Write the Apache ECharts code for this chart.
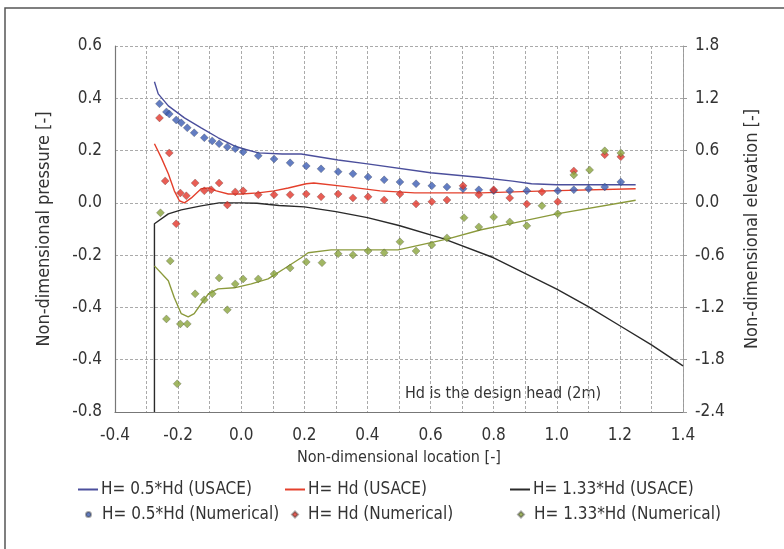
<!DOCTYPE html>
<html>
<head>
<meta charset="utf-8">
<script src="https://cdn.jsdelivr.net/npm/echarts@6/dist/echarts.min.js"></script>
<style>
  html, body { margin: 0; padding: 0; background: #fff; }
  #chart { width: 784px; height: 549px; }
</style>
</head>
<body>
<div id="chart"></div>
<script>
// tick labels (left axis repeats -0.4, as printed)
var leftTickLabels = ['-0.8', '-0.4', '-0.4', '-0.2', '0.0', '0.2', '0.4', '0.6'];
var seriesNames = [
    'H= 0.5*Hd (USACE)', 'H= Hd (USACE)', 'H= 1.33*Hd (USACE)',
    'H= 0.5*Hd (Numerical)', 'H= Hd (Numerical)', 'H= 1.33*Hd (Numerical)'
];

// USACE curves, [location, pressure]
var usaceHalf = [[-0.275,0.463],[-0.263,0.417],[-0.231,0.371],[-0.18,0.325],[-0.127,0.287],[-0.073,0.249],
    [-0.022,0.218],[0.006,0.207],[0.054,0.191],[0.13,0.187],[0.19,0.187],[0.307,0.164],[0.4,0.149],
    [0.6,0.115],[0.76,0.097],[0.86,0.083],[0.92,0.073],[1.0,0.069],[1.25,0.069]];
var usaceOne = [[-0.275,0.226],[-0.253,0.172],[-0.231,0.111],[-0.212,0.046],[-0.196,0.008],[-0.18,0.0],
    [-0.158,0.019],[-0.127,0.054],[-0.104,0.057],[-0.079,0.046],[-0.041,0.034],[0,0.034],[0.054,0.038],
    [0.104,0.046],[0.149,0.057],[0.206,0.073],[0.23,0.076],[0.34,0.061],[0.44,0.046],[0.55,0.038],
    [0.76,0.038],[0.97,0.046],[1.25,0.054]];
var usaceHigh = [[-0.275,-0.241],[-0.231,-0.298],[-0.212,-0.363],[-0.19,-0.424],[-0.168,-0.436],[-0.149,-0.424],
    [-0.127,-0.386],[-0.104,-0.348],[-0.073,-0.329],[-0.022,-0.325],[0.032,-0.31],[0.085,-0.291],[0.136,-0.252],
    [0.19,-0.21],[0.212,-0.191],[0.285,-0.18],[0.497,-0.18],[0.655,-0.138],[0.76,-0.103],[0.82,-0.088],
    [1.0,-0.042],[1.25,0.01]];

// crest profile, [location, elevation] on the right axis
var crestProfile = [[-0.275,-2.4],[-0.275,-0.24],[-0.231,-0.126],[-0.19,-0.08],[-0.127,-0.034],[-0.07,0.0],
    [0,0.0],[0.05,-0.005],[0.12,-0.03],[0.2,-0.046],[0.3,-0.1],[0.4,-0.17],[0.5,-0.26],[0.64,-0.41],
    [0.8,-0.63],[1.0,-0.99],[1.1,-1.19],[1.2,-1.41],[1.3,-1.63],[1.4,-1.87]];

// numerical results
var numHalf = [[-0.259,0.379],[-0.237,0.348],[-0.228,0.34],[-0.206,0.317],[-0.19,0.306],[-0.171,0.287],
    [-0.149,0.268],[-0.117,0.249],[-0.092,0.237],[-0.07,0.226],[-0.044,0.214],[-0.019,0.207],[0.006,0.195],
    [0.054,0.18],[0.104,0.168],[0.155,0.153],[0.206,0.141],[0.253,0.13],[0.307,0.119],[0.354,0.111],
    [0.402,0.099],[0.453,0.088],[0.503,0.08],[0.554,0.073],[0.604,0.065],[0.652,0.061],[0.703,0.054],
    [0.753,0.05],[0.8,0.046],[0.851,0.046],[0.905,0.046],[1.003,0.046],[1.054,0.05],[1.101,0.054],
    [1.152,0.061],[1.203,0.08]];
var numOne = [[-0.259,0.325],[-0.228,0.191],[-0.241,0.084],[-0.206,-0.08],[-0.193,0.038],[-0.174,0.027],
    [-0.146,0.076],[-0.117,0.046],[-0.095,0.05],[-0.07,0.076],[-0.044,-0.008],[-0.019,0.042],[0.006,0.046],
    [0.054,0.031],[0.104,0.031],[0.155,0.031],[0.206,0.034],[0.253,0.023],[0.307,0.034],[0.354,0.019],
    [0.402,0.023],[0.453,0.011],[0.503,0.034],[0.554,-0.004],[0.604,0.004],[0.652,0.011],[0.703,0.065],
    [0.753,0.031],[0.8,0.05],[0.851,0.019],[0.905,-0.004],[0.953,0.042],[1.003,0.004],[1.054,0.122],
    [1.152,0.184],[1.203,0.176]];
var numHigh = [[-0.256,-0.038],[-0.225,-0.222],[-0.237,-0.444],[-0.193,-0.463],[-0.171,-0.463],[-0.203,-0.692],
    [-0.146,-0.348],[-0.117,-0.371],[-0.092,-0.348],[-0.07,-0.287],[-0.044,-0.409],[-0.019,-0.31],
    [0.006,-0.291],[0.054,-0.291],[0.104,-0.272],[0.155,-0.249],[0.206,-0.226],[0.256,-0.229],
    [0.307,-0.195],[0.354,-0.199],[0.402,-0.184],[0.453,-0.191],[0.503,-0.149],[0.554,-0.184],
    [0.604,-0.161],[0.652,-0.134],[0.706,-0.057],[0.753,-0.092],[0.8,-0.054],[0.851,-0.073],[0.905,-0.088],
    [0.953,-0.011],[1.003,-0.042],[1.054,0.107],[1.104,0.126],[1.152,0.199],[1.203,0.191]];

var font = "'DejaVu Sans Condensed', 'Liberation Sans', sans-serif";
var textColor = '#333';
var gridLine = { show: true, lineStyle: { color: '#aaa', type: [3, 2], width: 1 } };
var boxLine = { color: '#777', width: 1.2 };

var myChart = echarts.init(document.getElementById('chart'));

function lineSeries(name, data, color, axis) {
    return {
        name: name, type: 'line', data: data, yAxisIndex: axis,
        symbol: 'none', lineStyle: { color: color, width: 1.4 }, itemStyle: { color: color },
        z: 3
    };
}
function dotSeries(name, data, color) {
    return {
        name: name, type: 'scatter', data: data, symbol: 'diamond', symbolSize: 8,
        itemStyle: { color: color, borderColor: 'rgba(40,40,40,0.5)', borderWidth: 0.6 },
        z: 4
    };
}
// one legend box per entry so the columns line up like the picture
function legendLine(left, name) {
    return {
        left: left, top: 476, itemWidth: 20, itemHeight: 2, icon: 'rect',
        textStyle: { fontFamily: font, fontSize: 17, color: textColor, padding: [0, 0, 0, -2] },
        data: [name]
    };
}
function legendDot(left, name, icon, size, pad) {
    return {
        left: left, top: 501, itemWidth: size, itemHeight: size, icon: icon,
        textStyle: { fontFamily: font, fontSize: 17, color: textColor, padding: [0, 0, 0, pad] },
        data: [name]
    };
}

var options = {
    backgroundColor: '#fff',
    animation: false,
    grid: { left: 115, right: 101, top: 46, bottom: 137 },
    legend: [
        legendLine(73, seriesNames[0]),
        legendLine(280, seriesNames[1]),
        legendLine(505, seriesNames[2]),
        legendDot(80, seriesNames[3], 'circle', 5, 6),
        legendDot(286, seriesNames[4], 'diamond', 6, 5),
        legendDot(512, seriesNames[5], 'diamond', 6, 5)
    ],
    xAxis: {
        type: 'value', min: -0.4, max: 1.4, interval: 0.2,
        name: 'Non-dimensional location [-]', nameLocation: 'middle', nameGap: 38,
        nameTextStyle: { fontFamily: font, fontSize: 16, color: textColor },
        axisLine: { show: true, onZero: false, lineStyle: boxLine },
        axisTick: { show: false },
        axisLabel: { margin: 15, fontFamily: font, fontSize: 17, color: textColor,
            formatter: function (v) { return v.toFixed(1); } },
        splitLine: gridLine,
        minorTick: { show: false, splitNumber: 2 },
        minorSplitLine: gridLine
    },
    yAxis: [{
        type: 'value', min: -0.8, max: 0.6, interval: 0.2, position: 'left',
        name: 'Non-dimensional pressure [-]', nameLocation: 'middle', nameGap: 62, nameRotate: 90,
        nameTextStyle: { fontFamily: font, fontSize: 18, color: textColor },
        axisLine: { show: true, onZero: false, lineStyle: boxLine },
        axisTick: { show: false },
        axisLabel: { margin: 13, fontFamily: font, fontSize: 17, color: textColor,
            formatter: function (v, i) { return leftTickLabels[i]; } },
        splitLine: gridLine
    }, {
        type: 'value', min: -2.4, max: 1.8, interval: 0.6, position: 'right',
        name: 'Non-dimensional elevation [-]', nameLocation: 'middle', nameGap: 60, nameRotate: 90,
        nameTextStyle: { fontFamily: font, fontSize: 18, color: textColor },
        axisLine: { show: true, onZero: false, lineStyle: { color: '#999', type: [3, 2] } },
        axisTick: { show: true, length: 4, lineStyle: { color: '#999' } },
        axisLabel: { margin: 12, fontFamily: font, fontSize: 17, color: textColor,
            formatter: function (v) { return v.toFixed(1); } },
        splitLine: { show: false }
    }],
    graphic: [{
        type: 'rect', shape: { x: 5, y: 8, width: 820, height: 600 },
        style: { fill: 'none', stroke: '#555', lineWidth: 1.5 }, silent: true
    }, {
        type: 'text', left: 405, top: 386,
        style: { text: 'Hd is the design head (2m)', font: '16px ' + font, fill: '#333' }
    }],
    series: [
        lineSeries(seriesNames[0], usaceHalf, '#4b4f9c', 0),
        lineSeries(seriesNames[1], usaceOne, '#e4402c', 0),
        lineSeries(seriesNames[2], crestProfile, '#2a2a2a', 1),
        dotSeries(seriesNames[3], numHalf, '#3c5db3'),
        dotSeries(seriesNames[4], numOne, '#e2362a'),
        dotSeries(seriesNames[5], numHigh, '#8aa43c'),
        // olive USACE curve has no legend entry of its own in the picture
        {
            name: 'usaceHigh', type: 'line', data: usaceHigh, symbol: 'none',
            lineStyle: { color: '#8b9a3c', width: 1.4 }, z: 3
        }
    ]
};
myChart.setOption(options, true);
</script>
</body>
</html>
